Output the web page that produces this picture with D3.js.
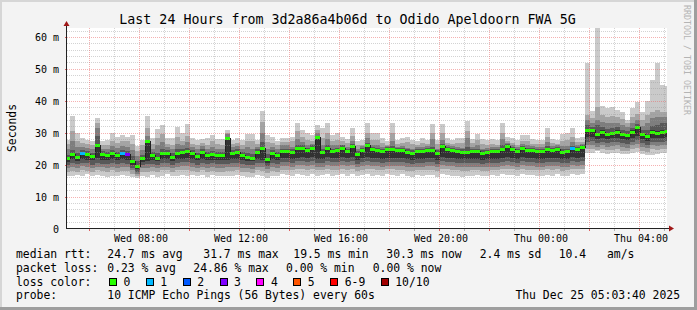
<!DOCTYPE html>
<html>
<head>
<meta charset="utf-8">
<script src="https://cdnjs.cloudflare.com/ajax/libs/d3/7.8.5/d3.min.js"></script>
<style>
  body { margin: 0; background: #ffffff; }
  svg text { font-family: "DejaVu Sans Mono", monospace; fill: #000; }
</style>
</head>
<body>
<div id="chart"></div>
<script>
// Values, in ms, one per 12 minute slot starting Wed 05:00
var medianRtt = [
  21.8, 23.2, 22.2, 23.5, 23.2, 22.4, 26.0, 23.2, 22.9, 23.5,
  22.9, 23.5, 23.2, 21.0, 19.4, 21.8, 27.1, 22.9, 21.9, 23.5,
  23.5, 22.2, 23.5, 23.8, 24.1, 23.5, 22.5, 23.8, 22.9, 23.2,
  22.9, 22.9, 28.2, 23.5, 23.8, 22.9, 22.2, 21.9, 23.8, 25.1,
  21.5, 23.5, 22.9, 24.1, 24.1, 23.8, 25.1, 25.1, 24.4, 25.1,
  28.5, 23.8, 25.1, 24.1, 24.4, 25.1, 24.1, 25.8, 23.3, 24.4,
  26.0, 24.8, 24.4, 24.0, 24.8, 24.8, 24.4, 24.4, 23.8, 23.5,
  24.1, 24.1, 24.4, 24.4, 23.5, 25.7, 24.8, 24.4, 24.1, 23.8,
  23.8, 24.1, 24.1, 23.5, 23.7, 24.1, 24.1, 24.8, 25.7, 24.8,
  24.1, 25.1, 24.4, 24.4, 24.1, 24.1, 24.8, 24.4, 24.8, 23.8,
  24.1, 25.1, 24.8, 25.4, 30.7, 30.6, 29.4, 30.2, 29.4, 29.7,
  30.2, 29.4, 29.0, 30.2, 31.7, 29.4, 28.7, 30.2, 29.9, 30.2,
  30.3
];

// lost pings out of 10 per slot
var lossCount = [
  0, 0, 0, 1, 0, 0, 0, 0, 0, 0,
  0, 1, 3, 0, 0, 0, 0, 0, 0, 0,
  0, 0, 0, 0, 0, 0, 0, 0, 0, 0,
  0, 0, 0, 0, 0, 0, 0, 0, 0, 0,
  0, 0, 0, 0, 0, 0, 0, 0, 0, 0,
  0, 0, 0, 0, 0, 0, 0, 0, 0, 0,
  0, 0, 0, 0, 0, 0, 0, 0, 0, 0,
  0, 0, 0, 0, 0, 0, 0, 0, 0, 0,
  0, 0, 0, 0, 0, 0, 0, 0, 0, 0,
  0, 0, 0, 0, 0, 0, 0, 0, 0, 0,
  0, 1, 0, 0, 0, 0, 0, 0, 0, 0,
  0, 0, 0, 0, 0, 0, 0, 0, 0, 0,
  0
];

// the 10 sorted pings of each slot (smoke)
var ping1 = [
  16.6, 16.3, 16.8, 16.5, 17.2, 16.4, 16.8, 16.5, 16.0, 16.6,
  16.3, 16.8, 16.5, 16.0, 15.8, 16.4, 16.2, 16.8, 16.2, 16.6,
  17.0, 16.4, 16.6, 16.9, 16.5, 16.8, 16.3, 16.7, 16.2, 16.8,
  16.4, 16.5, 16.6, 16.3, 16.8, 16.4, 16.1, 16.2, 16.9, 16.5,
  15.9, 16.6, 16.4, 17.0, 16.7, 16.5, 17.2, 16.8, 16.6, 17.0,
  16.4, 16.7, 17.2, 16.6, 16.9, 17.0, 16.6, 17.1, 16.3, 16.8,
  17.0, 16.5, 16.9, 16.4, 17.1, 16.8, 16.6, 17.0, 16.4, 16.2,
  16.7, 16.5, 16.9, 16.7, 16.1, 17.0, 16.8, 16.6, 16.4, 16.2,
  16.6, 16.4, 16.8, 16.3, 16.5, 16.7, 16.4, 17.0, 16.8, 16.9,
  16.5, 17.0, 16.7, 16.9, 16.4, 16.6, 16.9, 16.6, 17.0, 16.4,
  16.5, 17.0, 16.7, 17.0, 23.6, 23.8, 24.4, 23.6, 23.3, 23.6,
  23.5, 23.2, 23.4, 23.6, 23.9, 23.2, 22.9, 23.1, 23.2, 23.5,
  23.6
];
var ping2 = [
  17.6, 18.0, 17.8, 18.2, 18.0, 17.6, 18.2, 18.0, 17.8, 18.2,
  17.8, 18.0, 18.0, 17.2, 16.6, 17.6, 17.8, 18.0, 17.6, 18.2,
  18.2, 17.7, 18.2, 18.3, 18.4, 18.0, 17.7, 18.2, 17.8, 18.0,
  17.8, 17.8, 18.0, 18.0, 18.2, 17.8, 17.6, 17.5, 18.2, 18.0,
  17.4, 18.0, 17.8, 18.4, 18.4, 18.2, 18.6, 18.6, 18.4, 18.6,
  18.2, 18.2, 18.6, 18.4, 18.4, 18.6, 18.4, 18.6, 18.0, 18.4,
  18.6, 18.5, 18.4, 18.2, 18.5, 18.5, 18.4, 18.4, 18.1, 18.0,
  18.2, 18.2, 18.4, 18.4, 18.0, 18.6, 18.5, 18.4, 18.2, 18.1,
  18.1, 18.2, 18.2, 18.0, 18.0, 18.2, 18.2, 18.5, 18.6, 18.5,
  18.2, 18.6, 18.4, 18.4, 18.2, 18.2, 18.5, 18.4, 18.5, 18.1,
  18.2, 18.6, 18.5, 18.6, 24.8, 25.0, 24.5, 24.8, 24.5, 24.6,
  24.8, 24.4, 24.2, 24.8, 25.2, 24.4, 24.0, 24.8, 24.6, 24.8,
  24.9
];
var ping3 = [
  18.8, 19.3, 19.0, 19.5, 19.2, 18.9, 19.4, 19.2, 19.0, 19.4,
  19.0, 19.3, 19.2, 18.2, 17.2, 18.8, 19.0, 19.2, 18.8, 19.4,
  19.4, 18.9, 19.4, 19.5, 19.6, 19.3, 18.9, 19.4, 19.0, 19.2,
  19.0, 19.0, 19.2, 19.3, 19.4, 19.0, 18.8, 18.7, 19.4, 19.3,
  18.6, 19.3, 19.0, 19.6, 19.6, 19.4, 19.8, 19.8, 19.6, 19.8,
  19.4, 19.4, 19.8, 19.6, 19.6, 19.8, 19.6, 19.8, 19.2, 19.6,
  19.8, 19.7, 19.6, 19.4, 19.7, 19.7, 19.6, 19.6, 19.3, 19.2,
  19.4, 19.4, 19.6, 19.6, 19.2, 19.8, 19.7, 19.6, 19.4, 19.3,
  19.3, 19.4, 19.4, 19.2, 19.2, 19.4, 19.4, 19.7, 19.8, 19.7,
  19.4, 19.8, 19.6, 19.6, 19.4, 19.4, 19.7, 19.6, 19.7, 19.3,
  19.4, 19.8, 19.7, 19.8, 26.0, 26.3, 25.6, 26.0, 25.6, 25.8,
  26.0, 25.6, 25.3, 26.0, 26.4, 25.6, 25.2, 26.0, 25.8, 26.0,
  26.1
];
var ping4 = [
  19.8, 20.5, 20.2, 20.6, 20.4, 20.0, 20.6, 20.3, 20.2, 20.6,
  20.2, 20.5, 20.3, 19.0, 17.8, 19.8, 20.2, 20.3, 19.8, 20.6,
  20.6, 20.0, 20.6, 20.7, 20.8, 20.5, 20.0, 20.6, 20.2, 20.4,
  20.2, 20.2, 20.3, 20.5, 20.6, 20.2, 19.9, 19.8, 20.6, 20.5,
  19.6, 20.5, 20.2, 20.8, 20.8, 20.6, 21.0, 21.0, 20.8, 21.0,
  20.6, 20.6, 21.0, 20.8, 20.8, 21.0, 20.8, 21.0, 20.3, 20.8,
  21.0, 20.9, 20.8, 20.6, 20.9, 20.9, 20.8, 20.8, 20.5, 20.3,
  20.6, 20.6, 20.8, 20.8, 20.3, 21.0, 20.9, 20.8, 20.6, 20.5,
  20.5, 20.6, 20.6, 20.3, 20.4, 20.6, 20.6, 20.9, 21.0, 20.9,
  20.6, 21.0, 20.8, 20.8, 20.6, 20.6, 20.9, 20.8, 20.9, 20.5,
  20.6, 21.0, 20.9, 21.0, 27.2, 27.5, 26.8, 27.2, 26.8, 27.0,
  27.2, 26.8, 26.4, 27.2, 27.6, 26.8, 26.3, 27.2, 27.0, 27.2,
  27.3
];
var ping5 = [
  20.8, 21.8, 21.2, 21.8, 21.6, 21.3, 22.0, 21.6, 21.5, 21.8,
  21.5, 21.8, 21.6, 20.0, 18.6, 20.8, 21.0, 21.5, 21.0, 21.8,
  21.8, 21.2, 21.8, 21.9, 22.0, 21.8, 21.4, 21.8, 21.5, 21.6,
  21.5, 21.5, 21.4, 21.8, 21.8, 21.5, 21.2, 21.0, 21.8, 21.6,
  20.6, 21.8, 21.5, 22.0, 22.0, 21.8, 22.2, 22.4, 22.0, 22.3,
  21.8, 21.8, 22.3, 22.0, 22.0, 22.4, 22.0, 22.4, 21.6, 22.0,
  22.4, 22.2, 22.0, 21.9, 22.2, 22.2, 22.0, 22.0, 21.8, 21.6,
  21.9, 21.9, 22.0, 22.0, 21.6, 22.4, 22.2, 22.0, 21.9, 21.8,
  21.8, 21.9, 21.9, 21.6, 21.7, 21.9, 21.9, 22.2, 22.4, 22.2,
  21.9, 22.3, 22.0, 22.0, 21.9, 21.9, 22.2, 22.0, 22.2, 21.8,
  21.9, 22.3, 22.2, 22.4, 28.6, 28.8, 28.0, 28.5, 28.0, 28.2,
  28.5, 28.0, 27.6, 28.5, 29.0, 28.0, 27.5, 28.5, 28.3, 28.5,
  28.6
];
var ping6 = [
  22.1, 23.5, 22.5, 23.8, 23.5, 22.7, 26.4, 23.5, 23.2, 23.8,
  23.2, 23.8, 23.5, 21.3, 19.7, 22.1, 27.4, 23.2, 22.2, 23.8,
  23.8, 22.5, 23.8, 24.1, 24.4, 23.8, 22.8, 24.1, 23.2, 23.5,
  23.2, 23.2, 28.5, 23.8, 24.1, 23.2, 22.5, 22.2, 24.1, 25.4,
  21.8, 23.8, 23.2, 24.4, 24.4, 24.1, 25.4, 25.4, 24.7, 25.4,
  28.8, 24.1, 25.4, 24.4, 24.7, 25.4, 24.4, 26.1, 23.6, 24.7,
  26.3, 25.1, 24.7, 24.3, 25.1, 25.1, 24.7, 24.7, 24.1, 23.8,
  24.4, 24.4, 24.7, 24.7, 23.8, 26.0, 25.1, 24.7, 24.4, 24.1,
  24.1, 24.4, 24.4, 23.8, 24.0, 24.4, 24.4, 25.1, 26.0, 25.1,
  24.4, 25.4, 24.7, 24.7, 24.4, 24.4, 25.1, 24.7, 25.1, 24.1,
  24.4, 25.4, 25.1, 25.7, 31.2, 31.0, 30.0, 30.7, 30.0, 30.3,
  30.8, 30.0, 29.6, 30.8, 32.2, 30.0, 29.4, 30.8, 30.5, 30.8,
  30.9
];
var ping7 = [
  23.0, 24.5, 23.5, 24.5, 24.3, 23.6, 29.0, 24.2, 24.0, 24.5,
  24.0, 24.5, 24.3, 22.8, 21.2, 23.0, 27.8, 24.0, 23.5, 25.0,
  24.6, 23.5, 24.8, 24.8, 25.3, 24.5, 23.7, 24.8, 24.0, 24.3,
  24.0, 24.0, 28.8, 24.5, 24.8, 24.0, 23.5, 23.3, 24.8, 27.0,
  23.3, 24.5, 24.0, 25.0, 25.0, 24.8, 26.2, 26.0, 25.3, 26.0,
  29.0, 24.8, 26.2, 25.0, 25.3, 26.0, 25.0, 26.6, 24.3, 25.3,
  26.8, 25.6, 25.3, 25.0, 25.6, 25.8, 25.3, 25.3, 24.8, 24.5,
  25.0, 25.0, 25.3, 25.6, 24.5, 26.5, 25.6, 25.3, 25.0, 24.8,
  25.5, 25.0, 25.0, 24.5, 24.6, 25.0, 25.0, 26.0, 26.4, 25.6,
  25.0, 25.8, 25.3, 25.3, 25.0, 25.0, 25.8, 25.3, 25.6, 24.8,
  25.0, 25.8, 25.6, 26.0, 32.5, 31.8, 32.5, 31.8, 31.2, 31.5,
  31.8, 31.0, 30.5, 31.6, 32.8, 31.0, 31.0, 32.0, 32.5, 33.0,
  33.0
];
var ping8 = [
  24.8, 27.5, 25.5, 25.5, 25.2, 24.8, 31.5, 25.0, 24.8, 25.8,
  25.2, 25.8, 25.6, 24.5, 22.8, 24.5, 29.0, 25.0, 26.0, 27.0,
  25.5, 24.8, 26.5, 26.0, 27.0, 25.5, 24.8, 25.8, 25.0, 25.6,
  25.0, 25.0, 29.5, 25.5, 25.8, 25.0, 25.5, 25.0, 25.6, 30.0,
  25.0, 25.5, 25.0, 26.0, 26.0, 25.6, 28.0, 27.0, 26.3, 26.5,
  30.0, 26.0, 28.0, 26.0, 26.2, 26.3, 25.6, 27.5, 24.8, 25.8,
  28.5, 26.3, 26.2, 25.6, 25.8, 27.5, 25.6, 25.8, 25.3, 25.0,
  25.5, 25.6, 25.8, 28.0, 25.0, 27.8, 26.0, 25.7, 25.5, 25.3,
  28.5, 25.6, 26.0, 25.0, 25.2, 25.5, 25.4, 28.0, 26.8, 26.0,
  25.5, 26.5, 26.0, 25.8, 25.5, 25.5, 27.0, 25.8, 26.0, 25.8,
  25.8, 27.0, 26.0, 26.5, 34.0, 33.0, 34.1, 33.5, 33.0, 33.2,
  33.0, 32.5, 31.8, 33.0, 34.0, 32.2, 33.0, 34.5, 35.0, 35.0,
  35.0
];
var ping9 = [
  26.5, 30.5, 27.5, 26.8, 26.5, 26.2, 33.0, 26.3, 26.0, 27.5,
  26.8, 27.5, 27.3, 26.5, 24.2, 26.0, 31.5, 26.5, 28.5, 29.5,
  26.5, 26.3, 28.8, 27.5, 29.0, 26.5, 26.0, 26.8, 26.3, 27.5,
  26.5, 26.3, 30.0, 26.5, 26.8, 26.3, 27.5, 27.3, 26.5, 33.5,
  27.0, 26.8, 26.0, 27.0, 27.0, 27.3, 30.5, 28.8, 27.8, 27.5,
  31.0, 28.5, 30.0, 27.5, 27.8, 27.3, 26.8, 29.0, 26.0, 26.3,
  30.0, 27.8, 27.8, 26.8, 26.2, 30.0, 26.5, 26.8, 27.0, 26.5,
  26.2, 26.8, 26.5, 29.8, 26.5, 29.8, 26.8, 26.5, 26.8, 26.8,
  30.5, 26.8, 27.8, 26.5, 26.3, 26.5, 26.3, 30.0, 27.5, 26.8,
  26.3, 27.5, 27.5, 26.6, 26.5, 26.5, 28.8, 26.8, 26.5, 27.5,
  27.8, 28.8, 27.0, 27.2, 35.6, 34.5, 38.2, 35.5, 35.0, 35.3,
  34.8, 34.2, 33.2, 35.0, 36.0, 34.0, 35.5, 36.5, 37.0, 36.5,
  36.5
];
var ping10 = [
  27.8, 35.3, 29.9, 28.3, 27.8, 27.3, 34.6, 27.3, 27.6, 29.9,
  28.8, 29.4, 28.6, 29.4, 25.7, 27.6, 35.1, 28.3, 31.1, 32.5,
  28.3, 28.3, 31.8, 29.9, 32.8, 28.3, 27.8, 28.0, 28.3, 29.4,
  28.0, 28.0, 31.0, 27.8, 28.3, 27.8, 29.7, 29.7, 27.8, 36.7,
  29.4, 28.8, 27.3, 28.3, 28.3, 28.8, 33.2, 30.9, 29.9, 29.4,
  32.5, 31.4, 33.0, 29.4, 29.9, 28.6, 28.0, 31.4, 27.3, 27.6,
  33.2, 29.9, 29.9, 28.3, 27.3, 33.0, 27.8, 28.3, 28.8, 27.8,
  27.3, 28.3, 27.8, 32.8, 27.8, 32.8, 28.3, 27.8, 28.3, 28.3,
  33.8, 28.0, 29.7, 28.0, 27.6, 28.0, 27.6, 33.0, 28.8, 28.3,
  27.6, 29.4, 29.4, 28.0, 27.8, 27.8, 31.4, 28.0, 27.6, 29.7,
  29.9, 31.4, 28.3, 28.6, 51.9, 36.9, 62.9, 38.5, 37.7, 38.2,
  37.2, 36.5, 34.1, 37.7, 39.5, 36.5, 40.0, 46.4, 51.9, 45.0,
  44.5
];

var yTickValues = [0, 10, 20, 30, 40, 50, 60];
var lossLabels = ["0", "1", "2", "3", "4", "5", "6-9", "10/10"];
var lossColors = ["#26ff00", "#00b8ff", "#0059ff", "#7e00ff", "#ff00ff", "#ff5500", "#ff0000", "#a10000"];
var rttStats = ["24.7 ms avg", "31.7 ms max", "19.5 ms min", "30.3 ms now", "2.4 ms sd", "10.4", "am/s"];
var lossStats = ["0.23 % avg", "24.86 % max", "0.00 % min", "0.00 % now"];
var probeText = "10 ICMP Echo Pings (56 Bytes) every 60s";
var stampText = "Thu Dec 25 05:03:40 2025";
var titleText = "Last 24 Hours from 3d2a86a4b06d to Odido Apeldoorn FWA 5G";

var svgWidth = 697;
var svgHeight = 310;
var plot = { left: 67, right: 667, top: 28, bottom: 228.5 };
var legendFont = 11.4;
var charW = legendFont * 0.602;

var svg = d3.select("#chart")
  .append("svg")
  .attr("width", svgWidth)
  .attr("height", svgHeight);

// Background and the 3D frame rrdtool draws
svg.append("rect").attr("width", svgWidth).attr("height", svgHeight).attr("fill", "#f3f3f3");
svg.append("rect").attr("x", 0).attr("y", 0).attr("width", svgWidth).attr("height", 2).attr("fill", "#d6d6d6");
svg.append("rect").attr("x", 0).attr("y", 0).attr("width", 2).attr("height", svgHeight).attr("fill", "#d6d6d6");
svg.append("rect").attr("x", 0).attr("y", svgHeight - 3).attr("width", svgWidth).attr("height", 3).attr("fill", "#9e9e9e");
svg.append("rect").attr("x", svgWidth - 3).attr("y", 0).attr("width", 3).attr("height", svgHeight).attr("fill", "#9e9e9e");

// Scales
var startTime = new Date(Date.UTC(2025, 11, 24, 5, 3, 40));
var endTime = new Date(Date.UTC(2025, 11, 25, 5, 3, 40));
var firstSlot = Date.UTC(2025, 11, 24, 5, 0, 0);
var slotMs = 12 * 60 * 1000;

var xScale = d3.scaleUtc().domain([startTime, endTime]).range([plot.left, plot.right]);
var yScale = d3.scaleLinear().domain([0, 62.8]).range([plot.bottom, plot.top]);

function slotX0(i) {
  return Math.max(plot.left, xScale(new Date(firstSlot + i * slotMs)));
}
function slotX1(i) {
  return Math.min(plot.right, xScale(new Date(firstSlot + (i + 1) * slotMs)));
}
function lossColor(n) {
  if (n >= 10) return lossColors[7];
  if (n >= 6) return lossColors[6];
  return lossColors[n];
}

svg.append("defs").append("clipPath").attr("id", "plotclip")
  .append("rect")
  .attr("x", plot.left).attr("y", plot.top)
  .attr("width", plot.right - plot.left).attr("height", plot.bottom - plot.top);

svg.append("rect")
  .attr("x", plot.left).attr("y", plot.top)
  .attr("width", plot.right - plot.left).attr("height", plot.bottom - plot.top)
  .attr("fill", "#ffffff");

var chartGroup = svg.append("g").attr("clip-path", "url(#plotclip)");

// Smoke: outer ping pair first, inner pairs on top
var lowerPings = [ping1, ping2, ping3, ping4, ping5];
var upperPings = [ping10, ping9, ping8, ping7, ping6];
var smokeColors = ["#cacaca", "#a4a4a4", "#7e7e7e", "#585858", "#323232"];
var smokeCells = [];
lowerPings.forEach(function(lo, k) {
  medianRtt.forEach(function(m, i) {
    smokeCells.push({ i: i, k: k, lo: lo[i], hi: upperPings[k][i] });
  });
});

chartGroup.selectAll("rect.smoke")
  .data(smokeCells)
  .enter()
  .append("rect")
  .attr("class", "smoke")
  .attr("x", d => slotX0(d.i))
  .attr("width", d => slotX1(d.i) - slotX0(d.i))
  .attr("y", d => yScale(d.hi))
  .attr("height", d => yScale(d.lo) - yScale(d.hi))
  .attr("fill", d => smokeColors[d.k])
  .attr("shape-rendering", "crispEdges");

// Median step line and loss coloured median marks
var stepPoints = medianRtt.map((m, i) => [slotX0(i), yScale(m)]);
stepPoints.push([plot.right, yScale(medianRtt[medianRtt.length - 1])]);

chartGroup.append("path")
  .attr("d", d3.line().curve(d3.curveStepAfter)(stepPoints))
  .attr("fill", "none")
  .attr("stroke", "#202020")
  .attr("stroke-width", 1)
  .attr("shape-rendering", "crispEdges");

chartGroup.selectAll("rect.median")
  .data(medianRtt)
  .enter()
  .append("rect")
  .attr("class", "median")
  .attr("x", (d, i) => slotX0(i))
  .attr("width", (d, i) => slotX1(i) - slotX0(i))
  .attr("y", d => yScale(d) - 1.5)
  .attr("height", 3)
  .attr("fill", (d, i) => lossColor(lossCount[i]))
  .attr("shape-rendering", "crispEdges");

// Grid, drawn over the data like rrdtool does
var gridGroup = svg.append("g").attr("shape-rendering", "crispEdges");
var minorY = d3.range(2, 63, 2).filter(v => v % 10 !== 0);
var majorY = yTickValues.filter(v => v > 0);
var minorColor = "rgba(150,150,150,0.42)";
var majorColor = "rgba(235,100,100,0.5)";

gridGroup.selectAll("line.hminor")
  .data(minorY)
  .enter()
  .append("line")
  .attr("x1", plot.left).attr("x2", plot.right)
  .attr("y1", d => Math.round(yScale(d)) + 0.5)
  .attr("y2", d => Math.round(yScale(d)) + 0.5)
  .attr("stroke", minorColor)
  .attr("stroke-dasharray", "1,1");

gridGroup.selectAll("line.hmajor")
  .data(majorY)
  .enter()
  .append("line")
  .attr("x1", plot.left).attr("x2", plot.right)
  .attr("y1", d => Math.round(yScale(d)) + 0.5)
  .attr("y2", d => Math.round(yScale(d)) + 0.5)
  .attr("stroke", majorColor)
  .attr("stroke-dasharray", "1,1");

var hours = d3.utcHours(startTime, endTime);
gridGroup.selectAll("line.vgrid")
  .data(hours)
  .enter()
  .append("line")
  .attr("x1", d => Math.round(xScale(d)) - 0.5)
  .attr("x2", d => Math.round(xScale(d)) - 0.5)
  .attr("y1", plot.top)
  .attr("y2", plot.bottom)
  .attr("stroke", d => d.getUTCHours() % 2 === 0 ? majorColor : minorColor)
  .attr("stroke-dasharray", "1,1");

// Little ticks under the x axis and left of the y axis
gridGroup.selectAll("line.xtick")
  .data(hours)
  .enter()
  .append("line")
  .attr("x1", d => Math.round(xScale(d)) - 0.5)
  .attr("x2", d => Math.round(xScale(d)) - 0.5)
  .attr("y1", plot.bottom)
  .attr("y2", plot.bottom + 2)
  .attr("stroke", d => d.getUTCHours() % 2 === 0 ? "#e06060" : "#b0b0b0");

gridGroup.selectAll("line.ytick")
  .data(majorY)
  .enter()
  .append("line")
  .attr("x1", plot.left - 2)
  .attr("x2", plot.left)
  .attr("y1", d => Math.round(yScale(d)) + 0.5)
  .attr("y2", d => Math.round(yScale(d)) + 0.5)
  .attr("stroke", "#e06060");

// Axes lines with arrows
svg.append("line")
  .attr("x1", plot.left).attr("x2", 669)
  .attr("y1", plot.bottom).attr("y2", plot.bottom)
  .attr("stroke", "#222").attr("stroke-width", 1);
svg.append("line")
  .attr("x1", plot.left - 0.5).attr("x2", plot.left - 0.5)
  .attr("y1", plot.bottom + 0.5).attr("y2", 25)
  .attr("stroke", "#222").attr("stroke-width", 1);
svg.append("path")
  .attr("d", "M669,225.5L674,228.5L669,231.5Z")
  .attr("fill", "#a01818");
svg.append("path")
  .attr("d", "M63.5,26L66.5,21L69.5,26Z")
  .attr("fill", "#a01818");

// Tick labels through d3 axes
var bottomAxis = d3.axisBottom(xScale)
  .ticks(d3.utcHour.every(4))
  .tickFormat(d3.utcFormat("%a %H:%M"))
  .tickSize(0);
var leftAxis = d3.axisLeft(yScale)
  .tickValues(yTickValues)
  .tickFormat(d => d === 0 ? "0" : d + " m")
  .tickSize(0)
  .tickPadding(8);

var xAxisGroup = svg.append("g")
  .attr("transform", `translate(0, ${plot.bottom})`)
  .call(bottomAxis);
xAxisGroup.select(".domain").remove();
xAxisGroup.selectAll("text")
  .attr("dy", null)
  .attr("y", 13.5)
  .style("font-family", "DejaVu Sans Mono")
  .style("font-size", "10px")
  .attr("fill", "#000");

var yAxisGroup = svg.append("g")
  .attr("transform", `translate(${plot.left}, 0)`)
  .call(leftAxis);
yAxisGroup.select(".domain").remove();
yAxisGroup.selectAll("text")
  .attr("dy", null)
  .attr("y", 3.6)
  .style("font-family", "DejaVu Sans Mono")
  .style("font-size", "10px")
  .attr("fill", "#000");

// Title, axis label and watermark
svg.append("text")
  .attr("x", 347.5)
  .attr("y", 24)
  .attr("text-anchor", "middle")
  .style("font-size", "13.3px")
  .text(titleText);

svg.append("text")
  .attr("transform", "translate(15.5, 128) rotate(-90)")
  .attr("text-anchor", "middle")
  .style("font-size", "11.4px")
  .text("Seconds");

svg.append("text")
  .attr("transform", "translate(684, 5) rotate(90)")
  .style("font-size", "8.3px")
  .style("fill", "#b4b4b4")
  .text("RRDTOOL / TOBI OETIKER");

// Legend
var legend = svg.append("g").style("font-size", legendFont + "px");
var rowY = [258, 271.8, 285.6, 299.4];

legend.append("text").attr("x", 16).attr("y", rowY[0]).text("median rtt:");
var rttX = [107.3, 203.3, 293.3, 386.3, 479.7, 558.7, 607];
rttStats.forEach(function(s, i) {
  legend.append("text").attr("x", rttX[i]).attr("y", rowY[0]).text(s);
});

legend.append("text").attr("x", 16).attr("y", rowY[1]).text("packet loss:");
var lossX = [107.3, 193.3, 286, 372.7];
lossStats.forEach(function(s, i) {
  legend.append("text").attr("x", lossX[i]).attr("y", rowY[1]).text(s);
});

legend.append("text").attr("x", 16).attr("y", rowY[2]).text("loss color:");
var boxX = 109;
lossLabels.forEach(function(label, i) {
  legend.append("rect")
    .attr("x", boxX + 0.5).attr("y", rowY[2] - 7.5)
    .attr("width", 7).attr("height", 7)
    .attr("fill", lossColors[i])
    .attr("stroke", "#000")
    .attr("stroke-width", 1)
    .attr("shape-rendering", "crispEdges");
  legend.append("text").attr("x", boxX + 14.5).attr("y", rowY[2]).text(label);
  boxX = boxX + 14.5 + label.length * charW + 15.5;
});

legend.append("text").attr("x", 16).attr("y", rowY[3]).text("probe:");
legend.append("text").attr("x", 107.3).attr("y", rowY[3]).text(probeText);
legend.append("text").attr("x", 680).attr("y", rowY[3]).attr("text-anchor", "end").text(stampText);
</script>
</body>
</html>
